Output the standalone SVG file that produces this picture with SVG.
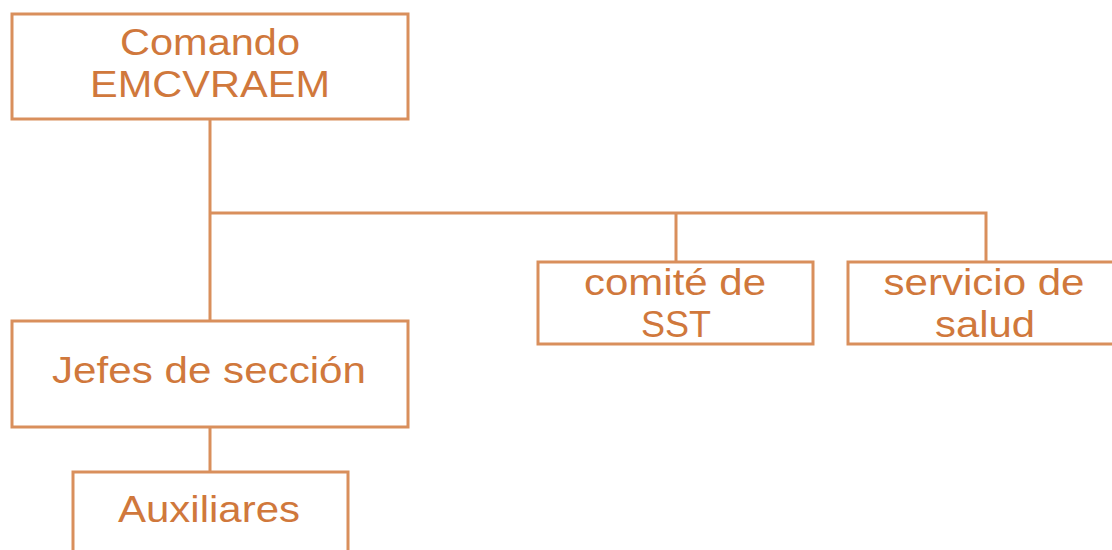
<svg xmlns="http://www.w3.org/2000/svg" width="1112" height="550" viewBox="0 0 1112 550">
<style>
.box{fill:#fff;stroke:#D98F5C;stroke-width:3}
.ln{fill:none;stroke:#D98F5C;stroke-width:3}
text{font-family:"Liberation Sans",Arial,sans-serif;font-size:37px;fill:#D0783C;text-anchor:middle}
</style>
<rect width="1112" height="550" fill="#fff"/>
<g id="connectors">
<path class="ln" d="M210 119V321M210 213H986V262M676 213V262M210 427V472"/>
</g>
<g id="comando">
<rect class="box" x="12" y="14" width="396" height="105"/>
<text x="210" y="55" textLength="180" lengthAdjust="spacingAndGlyphs">Comando</text>
<text x="210" y="97" textLength="240" lengthAdjust="spacingAndGlyphs">EMCVRAEM</text>
</g>
<g id="comite">
<rect class="box" x="538" y="262" width="275" height="82"/>
<text x="675" y="295" textLength="182" lengthAdjust="spacingAndGlyphs">comité de</text>
<text x="676" y="337" textLength="70" lengthAdjust="spacingAndGlyphs">SST</text>
</g>
<g id="servicio">
<rect class="box" x="848" y="262" width="280" height="82"/>
<text x="984" y="295" textLength="201" lengthAdjust="spacingAndGlyphs">servicio de</text>
<text x="985" y="337" textLength="100" lengthAdjust="spacingAndGlyphs">salud</text>
</g>
<g id="jefes">
<rect class="box" x="12" y="321" width="396" height="106"/>
<text x="209" y="383" textLength="314" lengthAdjust="spacingAndGlyphs">Jefes de sección</text>
</g>
<g id="auxiliares">
<rect class="box" x="73" y="472" width="275" height="100"/>
<text x="209" y="522" textLength="182" lengthAdjust="spacingAndGlyphs">Auxiliares</text>
</g>
</svg>
